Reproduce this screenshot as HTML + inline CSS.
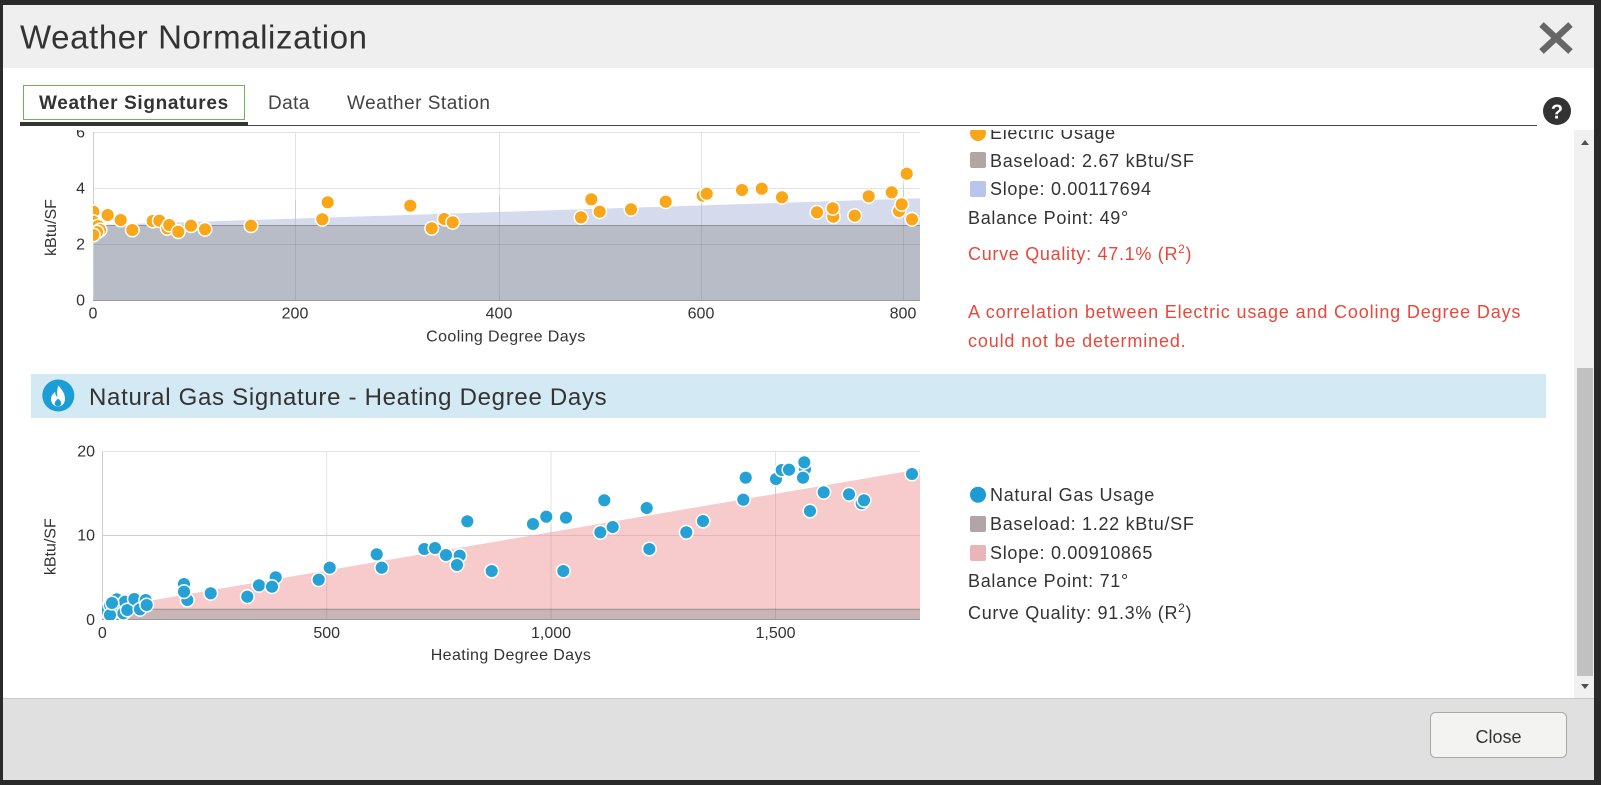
<!DOCTYPE html>
<html><head><meta charset="utf-8"><style>
html,body{margin:0;padding:0;background:#2a2a2a;}
svg{display:block;}
</style></head><body>
<svg width="1601" height="785" xmlns="http://www.w3.org/2000/svg" font-family="'Liberation Sans', sans-serif">
<rect width="1601" height="785" fill="#2a2a2a"/>
<rect x="3" y="5" width="1591" height="63" fill="#efefef"/>
<rect x="3" y="68" width="1591" height="630" fill="#ffffff"/>
<rect x="3" y="698" width="1591" height="82" fill="#e0e0e0"/>
<line x1="3" y1="698.5" x2="1594" y2="698.5" stroke="#c8c8c8"/>
<text x="20" y="48.5" font-size="33" letter-spacing="0.6" fill="#333">Weather Normalization</text>
<g stroke="#666" stroke-width="6.5"><line x1="1541.5" y1="24.5" x2="1570.5" y2="51.5"/><line x1="1570.5" y1="24.5" x2="1541.5" y2="51.5"/></g>
<!-- tabs -->
<rect x="23.5" y="85.5" width="221" height="34" fill="#fff" stroke="#6db552"/>
<text x="39" y="109" font-size="19" letter-spacing="0.65" font-weight="bold" fill="#333">Weather Signatures</text>
<text x="268" y="109" font-size="19" letter-spacing="0.4" fill="#444">Data</text>
<text x="347" y="109" font-size="19" letter-spacing="0.5" fill="#444">Weather Station</text>
<line x1="20" y1="125.5" x2="1537" y2="125.5" stroke="#444"/>
<rect x="20" y="122" width="228" height="4" fill="#333"/>
<circle cx="1557" cy="111" r="14" fill="#333"/>
<text x="1557" y="118.5" font-size="20" font-weight="bold" fill="#fff" text-anchor="middle">?</text>
<defs>
<clipPath id="vp"><rect x="3" y="130" width="1571" height="568"/></clipPath>
<clipPath id="p1"><rect x="93" y="120" width="827" height="181"/></clipPath>
<clipPath id="p2"><rect x="102" y="440" width="818" height="180"/></clipPath>
</defs>
<g clip-path="url(#vp)">
<!-- TOP CHART -->
<g stroke="#e3e3e3" stroke-width="1">
<line x1="93" y1="132.5" x2="920" y2="132.5"/><line x1="93" y1="188.5" x2="920" y2="188.5"/><line x1="93" y1="244.5" x2="920" y2="244.5"/>
<line x1="295.5" y1="132" x2="295.5" y2="300"/><line x1="499.5" y1="132" x2="499.5" y2="300"/><line x1="701.5" y1="132" x2="701.5" y2="300"/><line x1="903.5" y1="132" x2="903.5" y2="300"/>
</g>
<polygon points="93,225.2 920,198.3 920,225.2" fill="#d5dbed"/>
<rect x="93" y="225.2" width="827" height="74.8" fill="#b8bcc6"/>
<line x1="93" y1="225.5" x2="920" y2="225.5" stroke="#8f929b" stroke-width="1"/>
<g stroke="rgba(0,0,0,0.09)"><line x1="93" y1="244.5" x2="920" y2="244.5"/><line x1="295.5" y1="200" x2="295.5" y2="300"/><line x1="499.5" y1="195" x2="499.5" y2="300"/><line x1="701.5" y1="190" x2="701.5" y2="300"/><line x1="903.5" y1="185" x2="903.5" y2="300"/></g>
<line x1="93.5" y1="132" x2="93.5" y2="300" stroke="#ccc"/>
<line x1="93" y1="300.5" x2="920" y2="300.5" stroke="#999"/>
<g clip-path="url(#p1)" fill="#faa619" stroke="#fff" stroke-width="1.5">
<circle cx="93.3" cy="211.7" r="6.8"/><circle cx="93.3" cy="221.7" r="6.8"/><circle cx="95" cy="228" r="6.8"/><circle cx="98" cy="226" r="6.8"/><circle cx="100" cy="230" r="6.8"/><circle cx="97" cy="232" r="6.8"/><circle cx="93.3" cy="235" r="6.8"/>
<circle cx="107.7" cy="215" r="6.8"/><circle cx="120.7" cy="220" r="6.8"/><circle cx="132.3" cy="230" r="6.8"/><circle cx="152.7" cy="221" r="6.8"/><circle cx="159.3" cy="220.7" r="6.8"/><circle cx="167.3" cy="228.3" r="6.8"/><circle cx="169.3" cy="225" r="6.8"/><circle cx="178.3" cy="231.7" r="6.8"/><circle cx="191" cy="225.7" r="6.8"/><circle cx="205" cy="229.3" r="6.8"/><circle cx="251" cy="225.7" r="6.8"/><circle cx="322.3" cy="219.3" r="6.8"/><circle cx="327.7" cy="202.3" r="6.8"/><circle cx="410.3" cy="205.7" r="6.8"/><circle cx="431.7" cy="228.3" r="6.8"/><circle cx="444.3" cy="219" r="6.8"/><circle cx="452.7" cy="222.3" r="6.8"/>
<circle cx="581" cy="217.3" r="6.8"/><circle cx="591.3" cy="199.3" r="6.8"/><circle cx="599.7" cy="211.7" r="6.8"/><circle cx="631" cy="209.3" r="6.8"/><circle cx="665.7" cy="201.7" r="6.8"/><circle cx="702.7" cy="195.7" r="6.8"/><circle cx="706.7" cy="193.7" r="6.8"/><circle cx="742" cy="190" r="6.8"/><circle cx="761.7" cy="188.7" r="6.8"/><circle cx="782" cy="197.3" r="6.8"/><circle cx="817" cy="212.3" r="6.8"/><circle cx="833.3" cy="216.7" r="6.8"/><circle cx="832.7" cy="208.3" r="6.8"/><circle cx="854.7" cy="215.7" r="6.8"/><circle cx="868.7" cy="196.3" r="6.8"/><circle cx="891.7" cy="192.3" r="6.8"/><circle cx="899" cy="211" r="6.8"/><circle cx="901.7" cy="204.3" r="6.8"/><circle cx="906.7" cy="173.7" r="6.8"/><circle cx="912" cy="219.3" r="6.8"/>
</g>
<g font-size="16" fill="#333">
<text x="85" y="305.7" text-anchor="end">0</text><text x="85" y="249.7" text-anchor="end">2</text><text x="85" y="193.7" text-anchor="end">4</text><text x="85" y="137.7" text-anchor="end">6</text>
<text x="93" y="318.5" text-anchor="middle">0</text><text x="295" y="318.5" text-anchor="middle">200</text><text x="499" y="318.5" text-anchor="middle">400</text><text x="701" y="318.5" text-anchor="middle">600</text><text x="903" y="318.5" text-anchor="middle">800</text>
<text x="506" y="341.5" text-anchor="middle" letter-spacing="0.4">Cooling Degree Days</text>
<text transform="translate(56,227.5) rotate(-90)" text-anchor="middle">kBtu/SF</text>
</g>
<!-- TOP LEGEND -->
<g font-size="18" letter-spacing="0.7" fill="#333">
<circle cx="978" cy="133" r="8" fill="#faa619"/>
<text x="990" y="139">Electric Usage</text>
<rect x="970" y="152" width="16" height="16" rx="2" fill="#b1a5a5"/>
<text x="990" y="167">Baseload: 2.67 kBtu/SF</text>
<rect x="970" y="181" width="16" height="16" rx="2" fill="#b9c5ec"/>
<text x="990" y="195">Slope: 0.00117694</text>
<text x="968" y="224">Balance Point: 49°</text>
<text x="968" y="260" fill="#e8483b">Curve Quality: 47.1% (R<tspan dy="-7" font-size="12">2</tspan><tspan dy="7">)</tspan></text>
<text x="968" y="318" fill="#e8483b" letter-spacing="0.85">A correlation between Electric usage and Cooling Degree Days</text>
<text x="968" y="347" fill="#e8483b" letter-spacing="0.85">could not be determined.</text>
</g>
<!-- BANNER -->
<rect x="31" y="374" width="1515" height="44" fill="#d3e9f4"/>
<circle cx="58.3" cy="395.5" r="16" fill="#1b9dd5"/>
<path d="M58.5,385.5 C62.5,390.5 65,393.5 65,399 C65,403.2 62,406.5 58,406.5 C54,406.5 51,403.2 51,399.2 C51,396 53,393.8 55.2,391.8 C55.2,394.5 56,396 57.3,397 C57,393 57,389 58.5,385.5 Z" fill="#fff"/>
<path d="M58,398.5 C60,400.3 61.2,401.5 61.2,403.3 C61.2,405.2 59.8,406.3 58,406.3 C56.2,406.3 54.8,405.2 54.8,403.4 C54.8,401.5 56.5,400.3 58,398.5 Z" fill="#1b9dd5"/>
<text x="89" y="405" font-size="24" letter-spacing="0.7" fill="#333">Natural Gas Signature - Heating Degree Days</text>
<!-- BOTTOM CHART -->
<g stroke="#e3e3e3">
<line x1="102" y1="451.5" x2="920" y2="451.5"/><line x1="102" y1="535.5" x2="920" y2="535.5"/>
<line x1="326.7" y1="451" x2="326.7" y2="619"/><line x1="551" y1="451" x2="551" y2="619"/><line x1="775.5" y1="451" x2="775.5" y2="619"/>
</g>
<polygon points="102.3,608.8 920,469.1 920,608.8" fill="#f7cbcc"/>
<rect x="102.3" y="608.8" width="817.7" height="10.7" fill="#c9b4b6"/>
<line x1="102.3" y1="609.3" x2="920" y2="609.3" stroke="#9c9092"/>
<g stroke="rgba(0,0,0,0.09)"><line x1="102" y1="535.5" x2="920" y2="535.5"/><line x1="326.7" y1="565" x2="326.7" y2="619"/><line x1="551" y1="525" x2="551" y2="619"/><line x1="775.5" y1="487" x2="775.5" y2="619"/></g>
<line x1="102.5" y1="451" x2="102.5" y2="619" stroke="#ccc"/>
<line x1="102" y1="619.5" x2="920" y2="619.5" stroke="#999"/>
<g clip-path="url(#p2)" fill="#26a1d5" stroke="#fff" stroke-width="1.5">
<circle cx="108.3" cy="613.3" r="6.8"/><circle cx="105" cy="610" r="6.8"/><circle cx="110" cy="605" r="6.8"/><circle cx="116.7" cy="599.3" r="6.8"/><circle cx="114" cy="605" r="6.8"/><circle cx="120" cy="608.3" r="6.8"/><circle cx="125" cy="601.7" r="6.8"/><circle cx="123.3" cy="613.3" r="6.8"/><circle cx="127.3" cy="610" r="6.8"/><circle cx="134.3" cy="599" r="6.8"/><circle cx="140" cy="609.3" r="6.8"/><circle cx="145.7" cy="600" r="6.8"/><circle cx="146.7" cy="605" r="6.8"/><circle cx="110" cy="615" r="6.8"/><circle cx="112" cy="603" r="6.8"/>
<circle cx="184" cy="584" r="6.8"/><circle cx="187.3" cy="600" r="6.8"/><circle cx="184" cy="591.7" r="6.8"/><circle cx="210.7" cy="593.3" r="6.8"/><circle cx="247.3" cy="596.7" r="6.8"/><circle cx="259" cy="585.3" r="6.8"/><circle cx="275.7" cy="577.3" r="6.8"/><circle cx="272" cy="586.7" r="6.8"/><circle cx="318.7" cy="579.7" r="6.8"/><circle cx="329.7" cy="567.7" r="6.8"/><circle cx="376.7" cy="554.3" r="6.8"/><circle cx="381.7" cy="567.7" r="6.8"/><circle cx="424.3" cy="549" r="6.8"/><circle cx="435" cy="548" r="6.8"/><circle cx="446" cy="555" r="6.8"/><circle cx="459.7" cy="555.7" r="6.8"/><circle cx="457" cy="565" r="6.8"/><circle cx="467.3" cy="521.3" r="6.8"/><circle cx="491.7" cy="571" r="6.8"/>
<circle cx="533" cy="524" r="6.8"/><circle cx="546.3" cy="516.7" r="6.8"/><circle cx="566" cy="517.7" r="6.8"/><circle cx="563.3" cy="571" r="6.8"/><circle cx="600.3" cy="532.3" r="6.8"/><circle cx="604.3" cy="500.3" r="6.8"/><circle cx="612.7" cy="527" r="6.8"/><circle cx="646.7" cy="508" r="6.8"/><circle cx="649.3" cy="549" r="6.8"/><circle cx="686.3" cy="532.3" r="6.8"/><circle cx="703" cy="521" r="6.8"/><circle cx="743.3" cy="499.7" r="6.8"/><circle cx="745.7" cy="477.7" r="6.8"/><circle cx="776" cy="479" r="6.8"/><circle cx="781.7" cy="470" r="6.8"/><circle cx="789" cy="469.7" r="6.8"/><circle cx="805" cy="469" r="6.8"/><circle cx="804.3" cy="462.3" r="6.8"/><circle cx="803" cy="477.7" r="6.8"/><circle cx="810" cy="511" r="6.8"/><circle cx="823.7" cy="492.3" r="6.8"/><circle cx="849" cy="494.3" r="6.8"/><circle cx="861.7" cy="503.3" r="6.8"/><circle cx="864" cy="500.3" r="6.8"/><circle cx="912" cy="474" r="6.8"/>
</g>
<g font-size="16" fill="#333">
<text x="95" y="625.2" text-anchor="end">0</text><text x="95" y="540.7" text-anchor="end">10</text><text x="95" y="456.7" text-anchor="end">20</text>
<text x="102.3" y="638" text-anchor="middle">0</text><text x="326.7" y="638" text-anchor="middle">500</text><text x="551" y="638" text-anchor="middle">1,000</text><text x="775.5" y="638" text-anchor="middle">1,500</text>
<text x="511" y="660" text-anchor="middle" letter-spacing="0.4">Heating Degree Days</text>
<text transform="translate(55.5,546.7) rotate(-90)" text-anchor="middle">kBtu/SF</text>
</g>
<!-- BOTTOM LEGEND -->
<g font-size="18" letter-spacing="0.7" fill="#333">
<circle cx="978" cy="494.7" r="8" fill="#1d9cd3"/>
<text x="990" y="501">Natural Gas Usage</text>
<rect x="970" y="516" width="16" height="16" rx="2" fill="#b1a5a5"/>
<text x="990" y="530">Baseload: 1.22 kBtu/SF</text>
<rect x="970" y="545" width="16" height="16" rx="2" fill="#eab5b6"/>
<text x="990" y="559">Slope: 0.00910865</text>
<text x="968" y="587">Balance Point: 71°</text>
<text x="968" y="619">Curve Quality: 91.3% (R<tspan dy="-7" font-size="12">2</tspan><tspan dy="7">)</tspan></text>
</g>
</g>
<!-- SCROLLBAR -->
<rect x="1574" y="130" width="20" height="568" fill="#f1f1f1"/>
<rect x="1577" y="368" width="16" height="308" fill="#c1c1c1"/>
<polygon points="1581,145 1589,145 1585,140" fill="#505050"/>
<polygon points="1581,684 1589,684 1585,689" fill="#505050"/>
<!-- CLOSE BUTTON -->
<rect x="1430.5" y="712.5" width="136" height="45" rx="5" fill="#f3f4f2" stroke="#a9a9a9"/>
<text x="1498.5" y="743" font-size="18" fill="#333" text-anchor="middle">Close</text>
</svg>
</body></html>
